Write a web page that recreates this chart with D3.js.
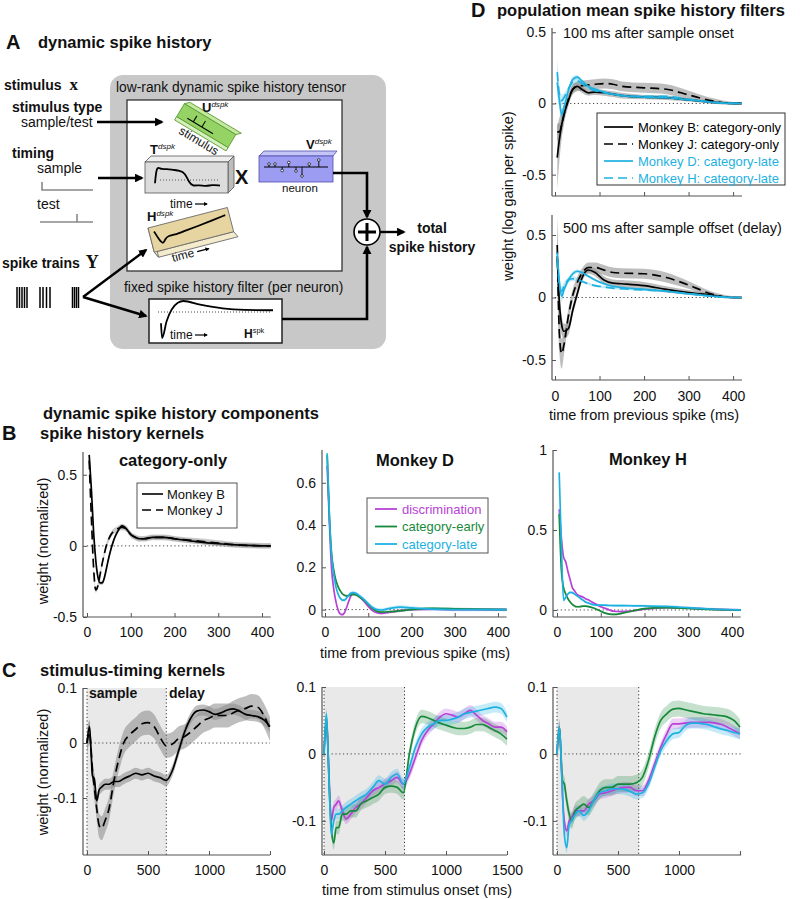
<!DOCTYPE html>
<html><head><meta charset="utf-8">
<script src="https://cdn.jsdelivr.net/npm/d3@7"></script>
<style>
body{margin:0;background:#fff;}
svg text{font-family:"Liberation Sans",Arial,Helvetica,sans-serif;fill:#111;}
</style></head><body>
<svg id="fig" width="800" height="899"></svg>
<script>
// ===================== DATA =====================
// Panel D: population mean spike history filters (time from previous spike, ms)
const dX = [5,10,15,20,30,40,50,60,75,90,110,130,150,200,250,300,350,400,420];
const dTopMonkeyB = [-0.38,-0.25,-0.15,-0.08,0.02,0.1,0.12,0.1,0.075,0.08,0.075,0.065,0.055,0.045,0.04,0.025,0.01,0.0,0.0];
const dTopMonkeyJ = [-0.2,-0.2,-0.15,-0.08,0.03,0.1,0.12,0.125,0.13,0.135,0.14,0.135,0.12,0.11,0.1,0.06,0.02,0.0,0.0];
const dTopMonkeyD = [0.15,0.02,-0.08,-0.03,0.09,0.17,0.185,0.16,0.12,0.1,0.08,0.065,0.055,0.045,0.04,0.025,0.01,0.0,0.0];
const dTopMonkeyH = [0.22,0.06,0.02,0.04,0.1,0.15,0.16,0.14,0.11,0.09,0.075,0.065,0.055,0.05,0.05,0.03,0.01,0.0,0.0];
const dTopBandB   = [0.22,0.15,0.1,0.07,0.04,0.03,0.025,0.025,0.02,0.02,0.02,0.02,0.02,0.015,0.015,0.012,0.01,0.005,0.005];
const dTopBandJ   = [0.06,0.06,0.05,0.04,0.035,0.035,0.035,0.035,0.035,0.035,0.035,0.035,0.035,0.035,0.035,0.03,0.02,0.01,0.005];
const dBandCyan   = [0.1,0.06,0.04,0.03,0.02,0.02,0.015,0.012,0.01,0.01,0.01,0.008,0.008,0.008,0.008,0.006,0.005,0.003,0.003];
const dBotMonkeyB = [0.33,-0.05,-0.22,-0.27,-0.25,-0.1,0.03,0.15,0.22,0.2,0.14,0.115,0.11,0.095,0.065,0.04,0.02,0.0,0.0];
const dBotMonkeyJ = [0.42,-0.3,-0.45,-0.38,-0.15,0.02,0.12,0.19,0.24,0.24,0.22,0.2,0.195,0.19,0.16,0.1,0.03,0.0,0.0];
const dBotMonkeyD = [0.36,0.12,0.01,0.06,0.14,0.19,0.21,0.2,0.17,0.14,0.11,0.09,0.08,0.065,0.05,0.03,0.012,0.0,0.0];
const dBotMonkeyH = [0.3,0.1,0.05,0.09,0.14,0.15,0.145,0.13,0.11,0.095,0.085,0.075,0.07,0.06,0.05,0.03,0.012,0.0,0.0];
const dBotBandB   = [0.3,0.15,0.08,0.06,0.05,0.04,0.035,0.03,0.03,0.03,0.03,0.03,0.03,0.03,0.025,0.02,0.012,0.005,0.005];
const dBotBandJ   = [0.25,0.15,0.12,0.08,0.06,0.05,0.045,0.04,0.04,0.04,0.04,0.04,0.04,0.04,0.04,0.03,0.02,0.01,0.005];
const dLegend = ["Monkey B: category-only","Monkey J: category-only","Monkey D: category-late","Monkey H: category-late"];

// Panel B: spike history kernels
const bX = [5,10,15,20,25,30,35,40,45,50,55,60,65,70,80,90,100,110,120,130,150,175,200,250,300,350,420];
const bCatOnlyB = [0.64,0.4,0.1,-0.1,-0.22,-0.26,-0.26,-0.22,-0.15,-0.08,-0.02,0.03,0.07,0.1,0.14,0.12,0.08,0.06,0.05,0.05,0.06,0.06,0.05,0.03,0.015,0.005,0.0];
const bCatOnlyJ = [0.6,0.2,-0.15,-0.31,-0.28,-0.2,-0.12,-0.05,0.01,0.05,0.08,0.1,0.11,0.12,0.13,0.12,0.08,0.06,0.05,0.05,0.06,0.06,0.05,0.035,0.02,0.005,0.0];
const bMonkeyDDisc  = [0.68,0.42,0.2,0.1,0.04,0.0,-0.02,-0.024,-0.015,0.01,0.04,0.065,0.075,0.075,0.06,0.04,0.015,-0.005,-0.015,-0.018,-0.012,-0.005,0.0,0.002,0.0,0.0,0.0];
const bMonkeyDEarly = [0.73,0.45,0.27,0.19,0.14,0.11,0.09,0.075,0.068,0.065,0.066,0.07,0.072,0.07,0.06,0.045,0.025,0.005,-0.008,-0.012,-0.01,-0.005,0.0,0.006,0.004,0.002,0.0];
const bMonkeyDLate  = [0.74,0.45,0.26,0.17,0.11,0.075,0.055,0.045,0.045,0.055,0.068,0.078,0.08,0.078,0.065,0.048,0.028,0.01,0.0,-0.002,0.006,0.012,0.008,0.002,0.0,0.0,0.0];
const bMonkeyHDisc  = [0.63,0.45,0.33,0.3,0.24,0.19,0.14,0.12,0.1,0.09,0.085,0.08,0.07,0.065,0.05,0.035,0.02,0.01,0.0,-0.008,-0.01,-0.005,0.005,0.015,0.012,0.005,0.0];
const bMonkeyHEarly = [0.6,0.25,0.14,0.1,0.07,0.05,0.035,0.025,0.02,0.02,0.022,0.024,0.024,0.022,0.015,0.005,-0.008,-0.02,-0.026,-0.028,-0.02,-0.005,0.008,0.015,0.01,0.004,0.0];
const bMonkeyHLate  = [0.86,0.4,0.06,0.08,0.1,0.11,0.108,0.1,0.09,0.08,0.07,0.06,0.05,0.045,0.035,0.03,0.03,0.03,0.028,0.027,0.027,0.026,0.025,0.022,0.014,0.006,0.0];
const bLegendCatOnly = ["Monkey B","Monkey J"];
const bLegendTask = ["discrimination","category-early","category-late"];

// Panel C: stimulus-timing kernels (time from stimulus onset, ms)
const cX = [0,20,30,45,60,80,100,120,150,180,220,260,300,350,400,450,500,550,600,650,700,750,800,850,900,950,1000,1050,1100,1150,1200,1250,1300,1350,1400,1450,1500];
const cCatOnlyB = [0.0,0.03,0.0,-0.06,-0.065,-0.105,-0.085,-0.08,-0.075,-0.075,-0.07,-0.07,-0.065,-0.06,-0.055,-0.058,-0.055,-0.06,-0.063,-0.068,-0.05,-0.015,0.02,0.045,0.058,0.06,0.057,0.052,0.055,0.06,0.062,0.058,0.052,0.05,0.048,0.042,0.03];
const cCatOnlyJ = [0.0,0.02,0.0,-0.05,-0.08,-0.12,-0.15,-0.155,-0.14,-0.12,-0.07,-0.03,0.0,0.015,0.025,0.035,0.037,0.03,0.01,-0.005,-0.002,0.008,0.012,0.02,0.03,0.04,0.045,0.05,0.05,0.05,0.055,0.06,0.063,0.067,0.065,0.05,0.025];
const cMonkeyDLate  = [0.0,0.06,0.02,-0.06,-0.12,-0.1,-0.09,-0.09,-0.085,-0.08,-0.075,-0.07,-0.065,-0.06,-0.05,-0.04,-0.045,-0.035,-0.03,-0.045,-0.02,0.01,0.03,0.04,0.045,0.05,0.05,0.052,0.055,0.06,0.062,0.064,0.066,0.068,0.07,0.068,0.055];
const cMonkeyDDisc  = [0.0,0.05,0.02,-0.05,-0.1,-0.08,-0.075,-0.07,-0.085,-0.097,-0.09,-0.08,-0.075,-0.065,-0.055,-0.05,-0.045,-0.04,-0.035,-0.045,-0.03,-0.005,0.02,0.035,0.045,0.055,0.06,0.058,0.055,0.06,0.065,0.058,0.05,0.045,0.04,0.04,0.033];
const cMonkeyDEarly = [0.0,0.055,0.02,-0.06,-0.11,-0.133,-0.11,-0.11,-0.09,-0.09,-0.085,-0.085,-0.075,-0.07,-0.065,-0.06,-0.05,-0.048,-0.05,-0.058,0.0,0.04,0.056,0.054,0.05,0.046,0.043,0.04,0.038,0.038,0.04,0.044,0.044,0.04,0.035,0.03,0.022];
const cMonkeyHLate  = [0.0,0.04,0.01,-0.06,-0.12,-0.14,-0.105,-0.1,-0.09,-0.085,-0.092,-0.085,-0.07,-0.058,-0.055,-0.052,-0.052,-0.053,-0.056,-0.06,-0.058,-0.045,-0.02,0.005,0.02,0.03,0.032,0.042,0.046,0.046,0.045,0.043,0.04,0.037,0.035,0.032,0.03];
const cMonkeyHDisc  = [0.0,0.04,0.01,-0.06,-0.1,-0.115,-0.1,-0.095,-0.085,-0.085,-0.085,-0.075,-0.07,-0.06,-0.058,-0.055,-0.052,-0.05,-0.05,-0.055,-0.055,-0.04,-0.015,0.01,0.03,0.045,0.045,0.046,0.047,0.047,0.047,0.047,0.046,0.044,0.04,0.035,0.03];
const cMonkeyHEarly = [0.0,0.04,0.01,-0.04,-0.045,-0.07,-0.09,-0.1,-0.085,-0.08,-0.075,-0.08,-0.07,-0.055,-0.05,-0.05,-0.045,-0.045,-0.045,-0.043,-0.035,-0.01,0.025,0.05,0.06,0.067,0.068,0.066,0.064,0.062,0.06,0.059,0.058,0.057,0.055,0.05,0.04];
const cSampleEnd = [650, 660, 670];   // end of sample epoch (ms) per panel

// Tick values
const histTicksX = [0,100,200,300,400];
const stimTicksX = [0,500,1000,1500];
const dTicksY = [-0.5,0,0.5];
const bCatTicksY = [-0.5,0,0.5];
const bDTicksY = [0,0.2,0.4,0.6];
const bHTicksY = [0,0.5,1];
const cTicksY = [-0.1,0,0.1];

// Schematic icon shapes (panel A, normalised 0..1)
const iconT = [[0,0.75],[0.02,0.15],[0.05,0.05],[0.1,0.15],[0.18,0.12],[0.28,0.17],[0.38,0.2],[0.46,0.3],[0.52,0.7],[0.58,0.88],[0.68,0.82],[0.78,0.88],[0.88,0.82],[1,0.85]];
const iconH = [[0,0.1],[0.04,0.6],[0.08,0.88],[0.12,0.62],[0.18,0.5],[0.26,0.55],[0.4,0.48],[0.6,0.4],[0.8,0.3],[1,0.2]];
const iconHspk = [[0,0.6],[0.01,1.0],[0.05,0.55],[0.15,0.05],[0.2,0.0],[0.35,0.1],[0.55,0.2],[0.75,0.24],[1,0.25]];
const iconVstemX = [0.05,0.15,0.27,0.38,0.5,0.6,0.72,0.88];
const iconVstemH = [0.3,0.3,-0.35,0.45,-0.4,-0.9,0.3,0.7];
const rasterX = [17,19.5,22,24.5,27,40,43,46.5,50,72.5,74.5,76.5,78.5];

// ===================== DRAW =====================
const svg = d3.select('#fig');
const CYAN = '#1db1e2', MAG = '#b743d6', GRN = '#17893a';
const SERIF = '"Liberation Serif","DejaVu Serif",serif';

const defs = svg.append('defs');
defs.append('marker').attr('id','arr').attr('viewBox','0 0 10 10').attr('refX',8).attr('refY',5)
  .attr('markerWidth',3.6).attr('markerHeight',3.6).attr('orient','auto')
  .append('path').attr('d','M0,0 L10,5 L0,10 Z').attr('fill','#000');

function txt(g, x, y, s, opt={}) {
  const t = g.append('text').attr('x',x).attr('y',y).text(s)
    .attr('font-size', opt.size || 14);
  if (opt.bold) t.attr('font-weight','bold');
  if (opt.anchor) t.attr('text-anchor', opt.anchor);
  if (opt.fill) t.style('fill', opt.fill);
  if (opt.family) t.attr('font-family', opt.family);
  return t;
}
function mathLabel(g, x, y, main, sup, size, supItalic=true) {
  const t = g.append('text').attr('x',x).attr('y',y).attr('font-family',SERIF)
    .attr('font-size',size).attr('font-weight','bold');
  t.append('tspan').text(main);
  t.append('tspan').attr('dy',-size*0.42).attr('font-size',size*0.62)
    .attr('font-style', supItalic ? 'italic' : 'normal').attr('font-weight','normal').text(sup);
}
function arrow(g, pts, w=2.4) {
  g.append('path').attr('d', d3.line()(pts)).attr('fill','none').attr('stroke','#000')
    .attr('stroke-width',w).attr('marker-end','url(#arr)');
}
function fmt(d){ return d === 0 ? '0' : String(d); }

function panel(cfg) {
  const g = svg.append('g');
  const x = d3.scaleLinear().domain(cfg.xd).range(cfg.xr);
  const y = d3.scaleLinear().domain(cfg.yd).range(cfg.yr);
  const top = cfg.yr[1], bot = cfg.yr[0];
  if (cfg.sampleEnd) {
    g.append('rect').attr('x', x(0)).attr('y', top).attr('width', x(cfg.sampleEnd)-x(0))
      .attr('height', bot-top).attr('fill','#e9e9e9');
    [0, cfg.sampleEnd].forEach(v => g.append('line').attr('x1',x(v)).attr('x2',x(v))
      .attr('y1',top).attr('y2',bot).attr('stroke','#333').attr('stroke-width',1)
      .attr('stroke-dasharray','1.2,2.4'));
  }
  g.append('line').attr('x1', x(0)).attr('x2', x(cfg.xd[1])).attr('y1', y(0)).attr('y2', y(0))
    .attr('stroke','#444').attr('stroke-width',1).attr('stroke-dasharray','1.2,2.6');
  const curve = d3.curveMonotoneX;
  cfg.series.forEach(s => {
    const pts = s.x.map((xv,i) => ({x:xv, v:s.y[i], b: Array.isArray(s.band) ? s.band[i] : s.band}));
    if (s.band) {
      g.append('path').datum(pts)
        .attr('d', d3.area().x(d=>x(d.x)).y0(d=>y(d.v-d.b)).y1(d=>y(d.v+d.b)).curve(curve))
        .attr('fill', s.bandColor || s.color).attr('fill-opacity', s.bandOpacity || 0.25);
    }
  });
  cfg.series.forEach(s => {
    const pts = s.x.map((xv,i) => ({x:xv, v:s.y[i]}));
    g.append('path').datum(pts)
      .attr('d', d3.line().x(d=>x(d.x)).y(d=>y(d.v)).curve(curve))
      .attr('fill','none').attr('stroke', s.color).attr('stroke-width', s.width || 1.7)
      .attr('stroke-dasharray', s.dash || null);
  });
  // axes
  const ya = d3.axisLeft(y).tickValues(cfg.yt).tickSizeInner(-4).tickSizeOuter(0).tickPadding(6).tickFormat(fmt);
  const yg = g.append('g').attr('transform',`translate(${cfg.ax},0)`).call(ya);
  const xa = d3.axisBottom(x).tickValues(cfg.xt).tickSizeInner(-4).tickSizeOuter(0).tickPadding(cfg.xpad || 10)
    .tickFormat(cfg.xlabels === false ? () => '' : (cfg.xfmt || fmt));
  const xg = g.append('g').attr('transform',`translate(0,${bot})`).call(xa);
  [yg, xg].forEach(a => {
    a.select('.domain').remove();
    a.selectAll('line').attr('stroke','#555');
    a.selectAll('text').attr('font-size', cfg.tickSize || 14).attr('font-family',null).style('fill','#111');
  });
  g.append('line').attr('x1',cfg.ax).attr('x2',cfg.ax).attr('y1',top).attr('y2',bot).attr('stroke','#555').attr('stroke-width',1.2);
  g.append('line').attr('x1',cfg.ax).attr('x2',x(cfg.xd[1])).attr('y1',bot).attr('y2',bot).attr('stroke','#555').attr('stroke-width',1.2);
  return {g, x, y};
}

// ---------- Panel A: schematic ----------
const A = svg.append('g');
txt(A, 6, 49, 'A', {size:20, bold:true});
txt(A, 38, 48, 'dynamic spike history', {size:16.5, bold:true});
A.append('rect').attr('x',110).attr('y',75).attr('width',276).attr('height',274).attr('rx',13).attr('fill','#c8c8c8');
txt(A, 116, 92, 'low-rank dynamic spike history tensor', {size:13.8});
A.append('rect').attr('x',127).attr('y',100).attr('width',215).attr('height',171).attr('fill','#fff').attr('stroke','#333').attr('stroke-width',1.3);

// left side labels
const st = A.append('text').attr('x',4).attr('y',90).attr('font-size',14).attr('font-weight','bold');
st.append('tspan').text('stimulus ');
st.append('tspan').attr('font-family',SERIF).attr('font-size',17).attr('dx',4).text('x');
txt(A, 12, 112, 'stimulus type', {size:14, bold:true});
txt(A, 21, 127, 'sample/test', {size:14});
arrow(A, [[97,122],[162,122]]);
txt(A, 12, 158, 'timing', {size:14, bold:true});
txt(A, 37, 173, 'sample', {size:14});
A.append('path').attr('d', d3.line()([[42,182],[42,190],[93,190]])).attr('fill','none').attr('stroke','#888').attr('stroke-width',1.6);
txt(A, 37, 209, 'test', {size:14});
A.append('path').attr('d', d3.line()([[40,222],[93,222]])).attr('stroke','#888').attr('stroke-width',1.6);
A.append('path').attr('d', d3.line()([[77,214],[77,222]])).attr('stroke','#888').attr('stroke-width',1.6);
arrow(A, [[98,178],[142,178]]);
const sy = A.append('text').attr('x',2).attr('y',268).attr('font-size',14).attr('font-weight','bold');
sy.append('tspan').text('spike trains ');
sy.append('tspan').attr('font-family',SERIF).attr('font-size',18).attr('dx',2).text('Y');
rasterX.forEach(rx => A.append('line').attr('x1',rx).attr('x2',rx).attr('y1',287).attr('y2',308).attr('stroke','#000').attr('stroke-width',1.5));
arrow(A, [[83,297],[146,250]]);
arrow(A, [[83,297],[146,316]]);

// U box (green, tilted)
const U = A.append('g').attr('transform','translate(206,126) rotate(31)');
U.append('polygon').attr('points','-30,7 30,7 30,11 -30,11').attr('fill','#d6f0bd').attr('stroke','#5c9a33').attr('stroke-width',0.8);
U.append('polygon').attr('points','-30,-8 -26,-12 34,-12 30,-8').attr('fill','#c3e9a0').attr('stroke','#5c9a33').attr('stroke-width',0.8);
U.append('rect').attr('x',-30).attr('y',-8).attr('width',60).attr('height',15).attr('fill','#95d464').attr('stroke','#5c9a33').attr('stroke-width',0.8);
U.append('line').attr('x1',-20).attr('x2',10).attr('y1',3).attr('y2',3).attr('stroke','#000').attr('stroke-width',1);
[-13,-3].forEach(v => U.append('line').attr('x1',v).attr('x2',v).attr('y1',3).attr('y2',-4).attr('stroke','#000').attr('stroke-width',1));
A.append('text').attr('transform','translate(178,133) rotate(31)').attr('font-size',12).text('stimulus');
mathLabel(A, 202, 112, 'U', 'dspk', 13);

// T box
A.append('polygon').attr('points','145,162 151,156 234,156 228,162').attr('fill','#eeeeee').attr('stroke','#555').attr('stroke-width',0.8);
A.append('polygon').attr('points','228,162 234,156 234,187 228,193').attr('fill','#bdbdbd').attr('stroke','#555').attr('stroke-width',0.8);
A.append('rect').attr('x',145).attr('y',162).attr('width',83).attr('height',31).attr('fill','#dcdcdc').attr('stroke','#555').attr('stroke-width',0.8);
{
  const ix = d3.scaleLinear().domain([0,1]).range([155,220]);
  const iy = d3.scaleLinear().domain([0,1]).range([166,189]);
  A.append('line').attr('x1',160).attr('x2',220).attr('y1',180).attr('y2',180).attr('stroke','#555').attr('stroke-dasharray','1,2');
  A.append('path').attr('d', d3.line().x(d=>ix(d[0])).y(d=>iy(d[1])).curve(d3.curveBasis)(iconT)).attr('fill','none').attr('stroke','#000').attr('stroke-width',1.8);
}
mathLabel(A, 150, 154, 'T', 'dspk', 13);
txt(A, 170, 208, 'time', {size:12});
arrow(A, [[195,204],[207,204]], 1.2);
txt(A, 235, 184, 'X', {size:20, bold:true});

// V box
A.append('polygon').attr('points','259,156 264,151 337,151 333,156').attr('fill','#c4c4f6').attr('stroke','#5050b0').attr('stroke-width',0.8);
A.append('rect').attr('x',259).attr('y',156).attr('width',74).attr('height',26).attr('fill','#9c9cf2').attr('stroke','#5050b0').attr('stroke-width',0.8);
{
  const vx = d3.scaleLinear().domain([0,1]).range([266,326]);
  A.append('line').attr('x1',264).attr('x2',328).attr('y1',167).attr('y2',167).attr('stroke','#000').attr('stroke-width',1);
  iconVstemX.forEach((sx,i) => {
    const y2 = 167 - iconVstemH[i]*10;
    A.append('line').attr('x1',vx(sx)).attr('x2',vx(sx)).attr('y1',167).attr('y2',y2).attr('stroke','#000').attr('stroke-width',0.9);
    A.append('circle').attr('cx',vx(sx)).attr('cy',y2).attr('r',1.3).attr('fill','#fff').attr('stroke','#000').attr('stroke-width',0.7);
  });
}
mathLabel(A, 306, 149, 'V', 'dspk', 13);
txt(A, 282, 192, 'neuron', {size:11.5});

// H box (tan, tilted)
const H = A.append('g').attr('transform','translate(148,228) rotate(-14.5)');
H.append('polygon').attr('points','0,25 82,25 85,31 3,31').attr('fill','#f4ebcd').attr('stroke','#666').attr('stroke-width',0.8);
H.append('polygon').attr('points','0,0 3,6 3,31 0,25').attr('fill','#f4ebcd').attr('stroke','#666').attr('stroke-width',0.8);
H.append('rect').attr('x',0).attr('y',0).attr('width',82).attr('height',25).attr('fill','#e6d4a1').attr('stroke','#666').attr('stroke-width',0.8);
{
  const hx = d3.scaleLinear().domain([0,1]).range([5,78]);
  const hy = d3.scaleLinear().domain([0,1]).range([3,22]);
  H.append('path').attr('d', d3.line().x(d=>hx(d[0])).y(d=>hy(d[1])).curve(d3.curveBasis)(iconH)).attr('fill','none').attr('stroke','#000').attr('stroke-width',1.8);
}
mathLabel(A, 147, 221, 'H', 'dspk', 13);
A.append('text').attr('transform','translate(173,262) rotate(-14.5)').attr('font-size',12).text('time');
A.append('path').attr('transform','translate(173,262) rotate(-14.5)').attr('d','M26,-4 L38,-4').attr('stroke','#000').attr('stroke-width',1.2).attr('marker-end','url(#arr)');

// fixed filter box
txt(A, 124, 292, 'fixed spike history filter (per neuron)', {size:13.8});
A.append('rect').attr('x',149).attr('y',299).attr('width',133).attr('height',44).attr('fill','#fff').attr('stroke','#222').attr('stroke-width',1.5);
A.append('line').attr('x1',158).attr('x2',270).attr('y1',312).attr('y2',312).attr('stroke','#444').attr('stroke-dasharray','1,2');
{
  const fx = d3.scaleLinear().domain([0,1]).range([161,273]);
  const fy = d3.scaleLinear().domain([0,1]).range([301,338]);
  A.append('path').attr('d', d3.line().x(d=>fx(d[0])).y(d=>fy(d[1])).curve(d3.curveMonotoneX)(iconHspk)).attr('fill','none').attr('stroke','#000').attr('stroke-width',1.8);
}
txt(A, 170, 339, 'time', {size:12});
arrow(A, [[195,335],[207,335]], 1.2);
mathLabel(A, 244, 338, 'H', 'spk', 12, false);

// summation
A.append('path').attr('d', d3.line()([[333,173],[367,173],[367,217]])).attr('fill','none').attr('stroke','#000').attr('stroke-width',2.6).attr('marker-end','url(#arr)');
A.append('path').attr('d', d3.line()([[282,319],[367,319],[367,247]])).attr('fill','none').attr('stroke','#000').attr('stroke-width',2.6).attr('marker-end','url(#arr)');
A.append('circle').attr('cx',367).attr('cy',232).attr('r',13).attr('fill','#fff').attr('stroke','#000').attr('stroke-width',1.6);
A.append('line').attr('x1',358).attr('x2',376).attr('y1',232).attr('y2',232).attr('stroke','#000').attr('stroke-width',3);
A.append('line').attr('x1',367).attr('x2',367).attr('y1',223).attr('y2',241).attr('stroke','#000').attr('stroke-width',3);
arrow(A, [[380,232],[404,232]]);
txt(A, 432, 233, 'total', {size:14, bold:true, anchor:'middle'});
txt(A, 432, 252, 'spike history', {size:14, bold:true, anchor:'middle'});

// ---------- Panel D ----------
txt(svg, 471, 17, 'D', {size:20, bold:true});
txt(svg, 497, 16, 'population mean spike history filters', {size:16.5, bold:true});
const black = '#000';
panel({xd:[0,420], xr:[555,742], yd:[-0.65,0.53], yr:[196,28], ax:552,
  xt:histTicksX, xlabels:false, yt:dTicksY, series:[
  {x:dX, y:dTopMonkeyJ, band:dTopBandJ, color:black, bandColor:'#888', bandOpacity:0.55, dash:'9,5'},
  {x:dX, y:dTopMonkeyB, band:dTopBandB, color:black, bandColor:'#888', bandOpacity:0.55},
  {x:dX, y:dTopMonkeyH, band:dBandCyan, color:CYAN, dash:'9,5'},
  {x:dX, y:dTopMonkeyD, band:dBandCyan, color:CYAN}]});
txt(svg, 563, 38, '100 ms after sample onset', {size:14.5});
panel({xd:[0,420], xr:[555,742], yd:[-0.66,0.66], yr:[380,215], ax:552,
  xt:histTicksX, xpad:11, yt:dTicksY, series:[
  {x:dX, y:dBotMonkeyJ, band:dBotBandJ, color:black, bandColor:'#888', bandOpacity:0.55, dash:'9,5'},
  {x:dX, y:dBotMonkeyB, band:dBotBandB, color:black, bandColor:'#888', bandOpacity:0.55},
  {x:dX, y:dBotMonkeyH, band:dBandCyan, color:CYAN, dash:'9,5'},
  {x:dX, y:dBotMonkeyD, band:dBandCyan, color:CYAN}]});
txt(svg, 563, 233, '500 ms after sample offset (delay)', {size:14.5});
svg.append('text').attr('transform','translate(513,196) rotate(-90)').attr('text-anchor','middle').attr('font-size',14.5).text('weight (log gain per spike)');
txt(svg, 644, 420, 'time from previous spike (ms)', {size:14.5, anchor:'middle'});
{
  const lg = svg.append('g');
  lg.append('rect').attr('x',597).attr('y',113).attr('width',188).attr('height',72).attr('fill','#fff').attr('stroke','#333').attr('stroke-width',1);
  const cols = [black, black, CYAN, CYAN], dashes = [null,'9,5',null,'9,5'];
  dLegend.forEach((s,i) => {
    const yy = 127 + i*17;
    lg.append('line').attr('x1',604).attr('x2',633).attr('y1',yy).attr('y2',yy).attr('stroke',cols[i]).attr('stroke-width',1.7).attr('stroke-dasharray',dashes[i]);
    txt(lg, 638, yy+4.5, s, {size:13, fill:cols[i]});
  });
}

// ---------- Panel B ----------
txt(svg, 43, 419, 'dynamic spike history components', {size:16.5, bold:true});
txt(svg, 2, 440, 'B', {size:20, bold:true});
txt(svg, 40, 439, 'spike history kernels', {size:16.5, bold:true});
panel({xd:[0,420], xr:[87,270.75], yd:[-0.5,0.66], yr:[617,452], ax:83,
  xt:histTicksX, yt:bCatTicksY, series:[
  {x:bX, y:bCatOnlyJ, band:0.02, color:black, bandColor:'#999', bandOpacity:0.5, dash:'9,5'},
  {x:bX, y:bCatOnlyB, band:0.015, color:black, bandColor:'#999', bandOpacity:0.5}]});
txt(svg, 173, 466, 'category-only', {size:16.5, bold:true, anchor:'middle'});
svg.append('text').attr('transform','translate(48,541) rotate(-90)').attr('text-anchor','middle').attr('font-size',14.5).text('weight (normalized)');
{
  const lg = svg.append('g');
  lg.append('rect').attr('x',137).attr('y',483).attr('width',100).attr('height',45).attr('fill','#fff').attr('stroke','#555').attr('stroke-width',1);
  [null,'9,5'].forEach((dsh,i) => {
    const yy = 494 + i*16;
    lg.append('line').attr('x1',142).attr('x2',163).attr('y1',yy).attr('y2',yy).attr('stroke','#000').attr('stroke-width',1.6).attr('stroke-dasharray',dsh);
    txt(lg, 167, yy+4.5, bLegendCatOnly[i], {size:13});
  });
}
panel({xd:[0,420], xr:[325,506.6], yd:[-0.035,0.755], yr:[617,450], ax:322,
  xt:histTicksX, yt:bDTicksY, series:[
  {x:bX, y:bMonkeyDDisc, band:0.006, color:MAG},
  {x:bX, y:bMonkeyDEarly, band:0.006, color:GRN},
  {x:bX, y:bMonkeyDLate, band:0.008, color:CYAN}]});
txt(svg, 415, 466, 'Monkey D', {size:16.5, bold:true, anchor:'middle'});
txt(svg, 415, 658, 'time from previous spike (ms)', {size:14.5, anchor:'middle'});
{
  const lg = svg.append('g');
  lg.append('rect').attr('x',367).attr('y',498).attr('width',121).attr('height',55).attr('fill','#fff').attr('stroke','#555').attr('stroke-width',1);
  [MAG, GRN, CYAN].forEach((c,i) => {
    const yy = 509 + i*17.5;
    lg.append('line').attr('x1',375).attr('x2',397).attr('y1',yy).attr('y2',yy).attr('stroke',c).attr('stroke-width',1.8);
    txt(lg, 402, yy+4.5, bLegendTask[i], {size:13, fill:c});
  });
}
panel({xd:[0,420], xr:[557,740.75], yd:[-0.044,1.0], yr:[617,450], ax:553,
  xt:histTicksX, yt:bHTicksY, series:[
  {x:bX, y:bMonkeyHDisc, band:0.006, color:MAG},
  {x:bX, y:bMonkeyHEarly, band:0.006, color:GRN},
  {x:bX, y:bMonkeyHLate, band:0.008, color:CYAN}]});
txt(svg, 648, 465, 'Monkey H', {size:16.5, bold:true, anchor:'middle'});

// ---------- Panel C ----------
txt(svg, 2, 677, 'C', {size:20, bold:true});
txt(svg, 40, 676, 'stimulus-timing kernels', {size:16.5, bold:true});
panel({xd:[0,1500], xr:[87,270], yd:[-0.2036,0.1], yr:[855,688], ax:83, sampleEnd:cSampleEnd[0],
  xt:stimTicksX, yt:cTicksY, series:[
  {x:cX, y:cCatOnlyJ, band:0.022, color:black, bandColor:'#888', bandOpacity:0.55, dash:'9,5'},
  {x:cX, y:cCatOnlyB, band:0.01, color:black, bandColor:'#888', bandOpacity:0.55}]});
txt(svg, 89, 698, 'sample', {size:14, bold:true});
txt(svg, 169, 698, 'delay', {size:14, bold:true});
svg.append('text').attr('transform','translate(48,772) rotate(-90)').attr('text-anchor','middle').attr('font-size',14.5).text('weight (normalized)');
panel({xd:[0,1500], xr:[324,507], yd:[-0.151,0.1], yr:[855,687], ax:322, sampleEnd:cSampleEnd[1],
  xt:stimTicksX, yt:cTicksY, series:[
  {x:cX, y:cMonkeyDDisc, band:0.008, color:MAG},
  {x:cX, y:cMonkeyDEarly, band:0.01, color:GRN},
  {x:cX, y:cMonkeyDLate, band:0.008, color:CYAN}]});
txt(svg, 417, 895, 'time from stimulus onset (ms)', {size:14.5, anchor:'middle'});
panel({xd:[0,1510], xr:[557,741.2], yd:[-0.151,0.1], yr:[855,687], ax:553, sampleEnd:cSampleEnd[2],
  xt:stimTicksX, xfmt: d => d >= 1500 ? '' : fmt(d), yt:cTicksY, series:[
  {x:cX, y:cMonkeyHDisc, band:0.008, color:MAG},
  {x:cX, y:cMonkeyHEarly, band:0.012, color:GRN},
  {x:cX, y:cMonkeyHLate, band:0.008, color:CYAN}]});
</script></body></html>
